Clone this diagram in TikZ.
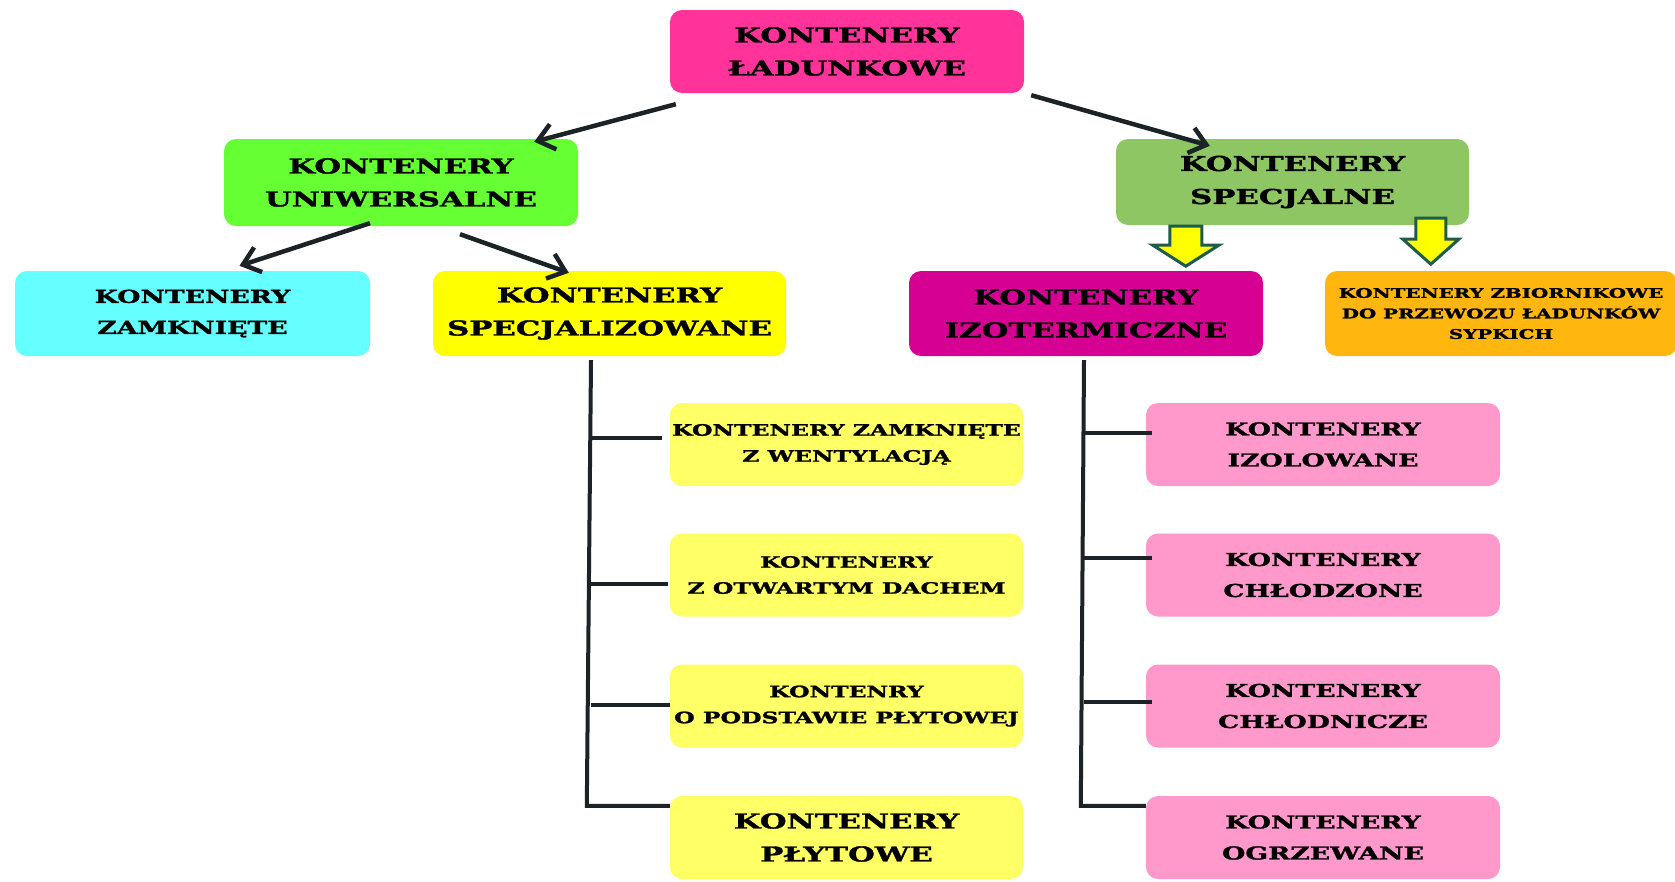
\documentclass[tikz,border=0pt]{standalone}
\usepackage{fontspec}
\newfontfamily\slab{DejaVu Serif}[FakeStretch=1.5,FakeBold=1.6]
\usetikzlibrary{arrows.meta,calc}
\definecolor{cRoot}{HTML}{FF3399}
\definecolor{cUni}{HTML}{66FF33}
\definecolor{cSpec}{HTML}{8DC663}
\definecolor{cZam}{HTML}{66FFFF}
\definecolor{cSpz}{HTML}{FFFF00}
\definecolor{cIzo}{HTML}{D60093}
\definecolor{cOra}{HTML}{FFB60F}
\definecolor{cYel}{HTML}{FFFF66}
\definecolor{cPink}{HTML}{FF99CC}
\definecolor{cLine}{HTML}{1B2327}
\definecolor{cBlk}{HTML}{1D5B4B}
\begin{document}
\begin{tikzpicture}[x=1pt,y=-1pt,
  box/.style={rounded corners=12pt, inner sep=0pt, align=center, text=black},
  fL/.style={font=\slab\bfseries\fontsize{20.5}{33}\selectfont},
  fM/.style={font=\slab\bfseries\fontsize{17.8}{31}\selectfont},
  fS/.style={font=\slab\bfseries\fontsize{15.7}{26}\selectfont},
  fXS/.style={font=\slab\bfseries\fontsize{13.2}{20.5}\selectfont},
  conn/.style={draw=cLine, line width=4.5pt, -{Straight Barb[length=16pt,width=26pt]}},
  treeline/.style={draw=cLine, line width=4pt},
  blockarrow/.style={draw=cBlk, fill=cSpz, line width=3pt, line join=miter}]
\useasboundingbox (0,0) rectangle (1675,881);
\fill[white] (0,0) rectangle (1675,881);
% level 1
\node[box, fL, fill=cRoot, minimum width=354pt, minimum height=83pt] (root) at (847,51.5) {KONTENERY\\ŁADUNKOWE};
% level 2
\node[box, fL, fill=cUni, minimum width=354pt, minimum height=87pt] (uni) at (401,182.5) {KONTENERY\\UNIWERSALNE};
\node[box, fL, fill=cSpec, minimum width=353pt, minimum height=86pt] (spec) at (1292.5,182) {KONTENERY\\SPECJALNE};
% level 3
\node[box, fM, fill=cZam, minimum width=355pt, minimum height=85pt] (zam) at (192.5,313.5) {KONTENERY\\ZAMKNIĘTE};
\node[box, fL, fill=cSpz, minimum width=353pt, minimum height=85pt] (spz) at (609.5,313.5) {KONTENERY\\SPECJALIZOWANE};
\node[box, fL, fill=cIzo, minimum width=354pt, minimum height=85pt] (izo) at (1086,313.5) {KONTENERY\\IZOTERMICZNE};
\node[box, fXS, fill=cOra, minimum width=352pt, minimum height=85pt] (ora) at (1501,313.5) {KONTENERY ZBIORNIKOWE\\DO PRZEWOZU ŁADUNKÓW\\SYPKICH};
% yellow children
\node[box, fS, fill=cYel, minimum width=353pt, minimum height=83pt] (y1) at (846.5,444.5) {KONTENERY ZAMKNIĘTE\\Z WENTYLACJĄ};
\node[box, fS, fill=cYel, minimum width=353pt, minimum height=83pt] (y2) at (846.5,575) {KONTENERY\\Z OTWARTYM DACHEM};
\node[box, fS, fill=cYel, minimum width=353pt, minimum height=83pt] (y3) at (846.5,706) {KONTENRY\\O PODSTAWIE PŁYTOWEJ};
\node[box, fL, fill=cYel, minimum width=353pt, minimum height=83pt] (y4) at (846.5,837.5) {KONTENERY\\PŁYTOWE};
% pink children
\node[box, fM, fill=cPink, minimum width=354pt, minimum height=83pt] (p1) at (1323,444.5) {KONTENERY\\IZOLOWANE};
\node[box, fM, fill=cPink, minimum width=354pt, minimum height=83pt] (p2) at (1323,575) {KONTENERY\\CHŁODZONE};
\node[box, fM, fill=cPink, minimum width=354pt, minimum height=83pt] (p3) at (1323,706) {KONTENERY\\CHŁODNICZE};
\node[box, fM, fill=cPink, minimum width=354pt, minimum height=83pt] (p4) at (1323,837.5) {KONTENERY\\OGRZEWANE};
% arrows
\draw[conn] ($(root.south west)+(6,11)$) -- ($(uni.north east)+(-44,3)$);
\draw[conn] ($(root.south east)+(7,2)$) -- ($(spec.north west)+(94,7)$);
\draw[conn] ($(uni.south)+(-31,-3)$) -- ($(zam.north)+(47,-5)$);
\draw[conn] ($(uni.south)+(59,8)$) -- ($(spz.north west)+(136,2)$);
% block arrows
\coordinate (ba1) at ($(spec.south west)+(70,1)$);
\draw[blockarrow] (ba1) ++(-16,0) -- ++(0,19) -- ++(-17,0) -- ++(33,21) -- ++(33,-21) -- ++(-17,0) -- ++(0,-19) -- cycle;
\coordinate (ba2) at ($(spec.south west)+(315,-7)$);
\draw[blockarrow] (ba2) ++(-15,0) -- ++(0,21) -- ++(-13,0) -- ++(28,25) -- ++(28,-25) -- ++(-13,0) -- ++(0,-21) -- cycle;
% tree under specjalizowane
\coordinate (ta) at ($(spz.south)+(-18.5,4)$);
\coordinate (tb) at ($(y4.north west)+(-83,10)$);
\coordinate (b1) at ($(y1.west)+(-8,-7)$);
\coordinate (b2) at ($(y2.west)+(-2,9)$);
\coordinate (b3) at ($(y3.west)+(0,-1)$);
\draw[treeline] (ta) -- (tb) -- ($(y4.north west)+(0,10)$);
\draw[treeline] (b1) -- (b1 -| ta);
\draw[treeline] (b2) -- (b2 -| ta);
\draw[treeline] (b3) -- (b3 -| ta);
% tree under izotermiczne
\coordinate (tc) at ($(izo.south)+(-2,4)$);
\coordinate (td) at ($(p4.north west)+(-65,10)$);
\coordinate (c1) at ($(p1.west)+(6,-11.5)$);
\coordinate (c2) at ($(p2.west)+(6,-17)$);
\coordinate (c3) at ($(p3.west)+(6,-4)$);
\draw[treeline] (tc) -- (td) -- ($(p4.north west)+(0,10)$);
\draw[treeline] (c1) -- (c1 -| tc);
\draw[treeline] (c2) -- (c2 -| tc);
\draw[treeline] (c3) -- (c3 -| tc);
\end{tikzpicture}
\end{document}
